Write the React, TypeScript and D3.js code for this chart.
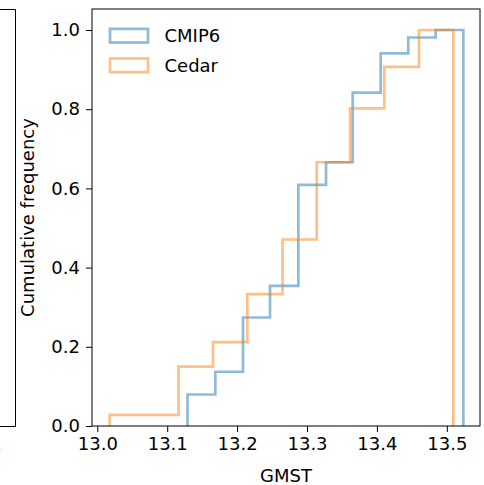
import { useEffect, useRef } from 'react'
import * as d3 from 'd3'

// bin edges (GMST) and cumulative frequency per bin
const cmip6Edges = [13.129, 13.1688, 13.2084, 13.2471, 13.2876, 13.3272, 13.3654, 13.4054, 13.4449, 13.4841, 13.5236]
const cmip6Cum = [0.0795, 0.137, 0.274, 0.354, 0.609, 0.666, 0.842, 0.941, 0.981, 1.0]

const cedarEdges = [13.0177, 13.067, 13.1162, 13.1655, 13.2146, 13.265, 13.3139, 13.3616, 13.4106, 13.4602, 13.5093]
const cedarCum = [0.028, 0.028, 0.15, 0.212, 0.333, 0.471, 0.666, 0.802, 0.907, 1.0]

const xTicks = [13.0, 13.1, 13.2, 13.3, 13.4, 13.5]
const yTicks = [0.0, 0.2, 0.4, 0.6, 0.8, 1.0]

const series = [
  { name: 'CMIP6', edges: cmip6Edges, cum: cmip6Cum, color: '#1f77b4' },
  { name: 'Cedar', edges: cedarEdges, cum: cedarCum, color: '#ff7f0e' },
]

const FONT = '"DejaVu Sans", sans-serif'

export default function App() {
  const ref = useRef<SVGSVGElement | null>(null)

  useEffect(() => {
    document.body.style.margin = '0'
    if (!ref.current) return
    const width = 484
    const height = 485
    const margin = { top: 9, right: 4, bottom: 59, left: 92 }

    const svg = d3.select(ref.current)
    svg.selectAll('*').remove()

    const x = d3.scaleLinear().domain([12.9924, 13.5475]).range([margin.left, width - margin.right])
    const y = d3.scaleLinear().domain([0, 1.053]).range([height - margin.bottom, margin.top])

    // neighbouring panel, cut off at the left edge
    svg.append('path')
      .attr('d', `M-10,${margin.top + 0.5}H15.5V${height - margin.bottom + 0.5}H-10`)
      .attr('fill', 'none')
      .attr('stroke', '#000')
      .attr('stroke-width', 1)
    svg.append('text')
      .attr('x', 1.5).attr('y', 455)
      .attr('text-anchor', 'end')
      .style('font-family', FONT).style('font-size', '18px')
      .text('13.5')

    const line = d3.line<[number, number]>().x((d) => x(d[0])).y((d) => y(d[1]))

    series.forEach((s) => {
      const pts: [number, number][] = [[s.edges[0], 0]]
      s.cum.forEach((c, i) => {
        pts.push([s.edges[i], c])
        pts.push([s.edges[i + 1], c])
      })
      pts.push([s.edges[s.edges.length - 1], 0])
      svg.append('path')
        .attr('d', line(pts))
        .attr('fill', 'none')
        .attr('stroke', s.color)
        .attr('stroke-opacity', 0.5)
        .attr('stroke-width', 2.7)
        .attr('stroke-linejoin', 'miter')
    })

    // frame
    svg.append('rect')
      .attr('x', margin.left)
      .attr('y', margin.top)
      .attr('width', width - margin.right - margin.left)
      .attr('height', height - margin.bottom - margin.top)
      .attr('fill', 'none')
      .attr('stroke', '#000')
      .attr('stroke-width', 1)

    const xAxis = svg.append('g')
      .attr('transform', `translate(0,${height - margin.bottom})`)
      .call(d3.axisBottom(x).tickValues(xTicks).tickFormat(d3.format('.1f')).tickSize(6).tickPadding(5))
    xAxis.select('.domain').remove()
    xAxis.selectAll('text').style('font-family', FONT).style('font-size', '18px').attr('fill', '#000')

    const yAxis = svg.append('g')
      .attr('transform', `translate(${margin.left},0)`)
      .call(d3.axisLeft(y).tickValues(yTicks).tickFormat(d3.format('.1f')).tickSize(6).tickPadding(6))
    yAxis.select('.domain').remove()
    yAxis.selectAll('text').style('font-family', FONT).style('font-size', '18px').attr('fill', '#000')

    svg.append('text')
      .attr('x', (margin.left + width - margin.right) / 2)
      .attr('y', 481.5)
      .attr('text-anchor', 'middle')
      .style('font-family', FONT).style('font-size', '18px')
      .text('GMST')

    svg.append('text')
      .attr('transform', `translate(34,${(margin.top + height - margin.bottom) / 2}) rotate(-90)`)
      .attr('text-anchor', 'middle')
      .style('font-family', FONT).style('font-size', '18px')
      .text('Cumulative frequency')

    // legend
    const legend = svg.append('g')
    series.forEach((s, i) => {
      const cy = 35.7 + i * 29.6
      legend.append('rect')
        .attr('x', 110).attr('y', cy - 6.8)
        .attr('width', 38).attr('height', 13.6)
        .attr('fill', 'none')
        .attr('stroke', s.color)
        .attr('stroke-opacity', 0.5)
        .attr('stroke-width', 2.7)
      legend.append('text')
        .attr('x', 164.5).attr('y', cy + 6.4)
        .style('font-family', FONT).style('font-size', '18px')
        .text(s.name)
    })
  }, [])

  return <svg ref={ref} width={484} height={485} style={{ display: 'block' }} />
}
